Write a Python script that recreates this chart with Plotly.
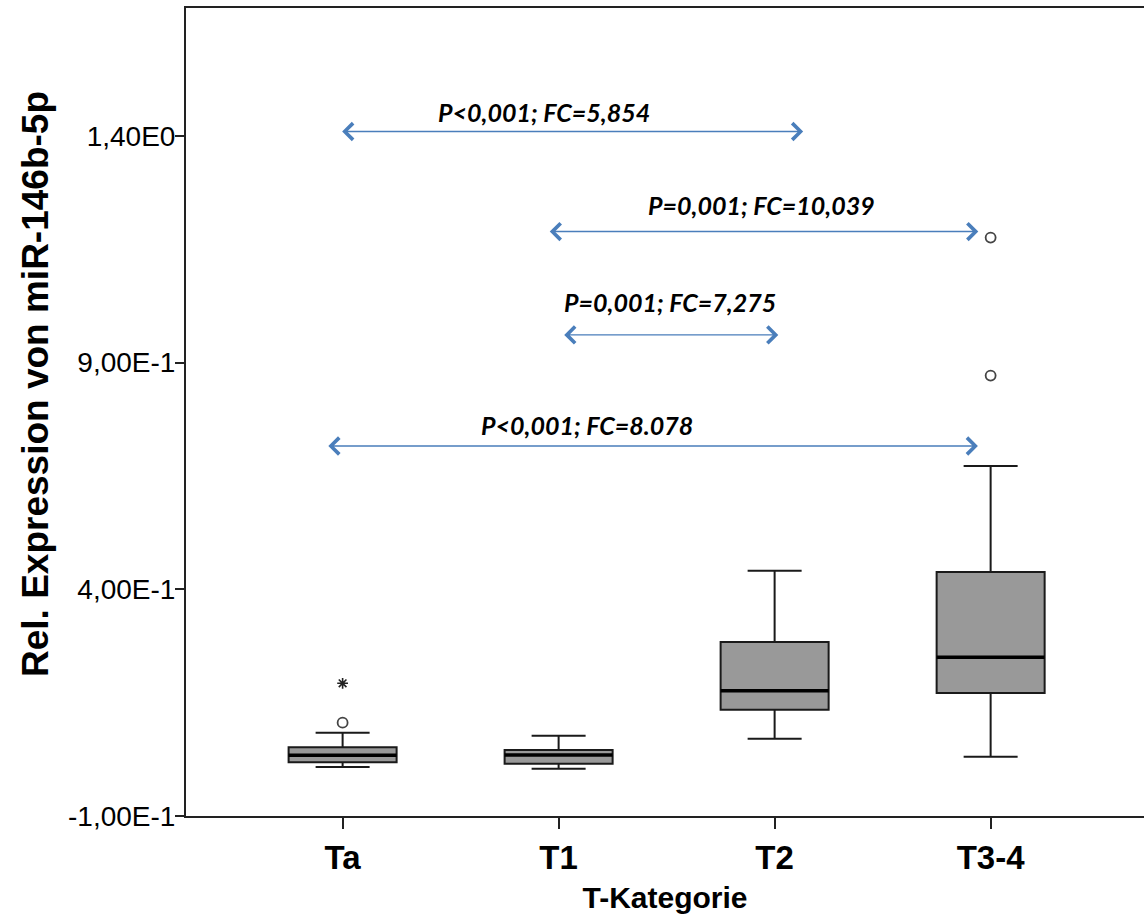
import plotly.graph_objects as go

categories = ["Ta", "T1", "T2", "T3-4"]
q1 = [0.0185, 0.0154, 0.1345, 0.1713]
median = [0.0339, 0.0346, 0.1764, 0.2501]
q3 = [0.0516, 0.0456, 0.2839, 0.4383]
lower_whisker = [0.0080, 0.0044, 0.0705, 0.0308]
upper_whisker = [0.0838, 0.0771, 0.4411, 0.6721]

outlier_cat = ["Ta", "T3-4", "T3-4"]
outlier_val = [0.1058, 1.1757, 0.8713]
extreme_cat = ["Ta"]
extreme_val = [0.1927]

y_tickvals = [-0.1, 0.4, 0.9, 1.4]
y_ticktext = ["-1,00E-1", "4,00E-1", "9,00E-1", "1,40E0"]

comp_labels = ["P<0,001; FC=5,854", "P=0,001; FC=10,039", "P=0,001; FC=7,275", "P<0,001; FC=8.078"]
comp_x_start = [-0.009, 0.952, 1.019, -0.073]
comp_x_end = [2.132, 2.943, 2.017, 2.941]
comp_y = [1.4096, 1.189, 0.961, 0.716]
comp_text_x = [0.932, 1.939, 1.515, 1.131]
comp_text_y = [1.4537, 1.248, 1.0346, 0.7626]

pos = {c: i for i, c in enumerate(categories)}
xs = list(range(len(categories)))

fig = go.Figure()
fig.add_trace(go.Box(
    x=xs, q1=q1, median=median, q3=q3,
    lowerfence=lower_whisker, upperfence=upper_whisker,
    width=0.5, whiskerwidth=0.5,
    fillcolor="#999999", line=dict(color="#1a1a1a", width=2),
    boxpoints=False, hoverinfo="skip", showlegend=False,
))

# median lines (thicker)
mx, my = [], []
for i, m in enumerate(median):
    mx += [i - 0.25, i + 0.25, None]
    my += [m, m, None]
fig.add_trace(go.Scatter(x=mx, y=my, mode="lines",
                         line=dict(color="black", width=3.5),
                         hoverinfo="skip", showlegend=False))

fig.add_trace(go.Scatter(
    x=[pos[c] for c in outlier_cat], y=outlier_val, mode="markers",
    marker=dict(symbol="circle-open", size=10, color="#444444", line=dict(width=1.8)),
    hoverinfo="skip", showlegend=False))
fig.add_trace(go.Scatter(
    x=[pos[c] for c in extreme_cat], y=extreme_val, mode="markers",
    marker=dict(symbol="asterisk-open", size=9, color="#222222", line=dict(width=1.6)),
    hoverinfo="skip", showlegend=False))

annotations = []
for xs0, xe, yy in zip(comp_x_start, comp_x_end, comp_y):
    annotations.append(dict(
        x=xe, y=yy, ax=xs0, ay=yy, xref="x", yref="y", axref="x", ayref="y",
        text="", showarrow=True, arrowhead=4, startarrowhead=4,
        arrowside="end+start", arrowsize=2.3, startarrowsize=2.3, arrowwidth=1.4,
        arrowcolor="#4a7ebb", standoff=0, startstandoff=0))
for t, tx, ty in zip(comp_labels, comp_text_x, comp_text_y):
    annotations.append(dict(
        x=tx, y=ty, xref="x", yref="y", text="<b><i>" + t + "</i></b>",
        showarrow=False, font=dict(family="Lato", size=25, color="black")))

annotations.append(dict(
    x=(35 - 186) / 958, y=(816 - 384) / 808, xref="paper", yref="paper",
    xanchor="center", yanchor="middle",
    text="<b>Rel. Expression von miR-146b-5p</b>", textangle=-90, showarrow=False,
    font=dict(family="Liberation Sans", size=37, color="black")))

fig.update_layout(
    width=1144, height=920,
    margin=dict(l=186, r=0, t=8, b=104),
    paper_bgcolor="white", plot_bgcolor="white",
    annotations=annotations,
    xaxis=dict(
        range=[-0.725, 3.71], tickvals=xs,
        ticktext=["<b>" + c + "</b>" for c in categories],
        showline=True, linecolor="#222222", linewidth=2, mirror=True,
        ticks="outside", ticklen=11, tickwidth=2, tickcolor="#222222",
        showgrid=False, zeroline=False,
        tickfont=dict(family="Liberation Sans", size=33, color="black"),
        title=dict(text="<b>T-Kategorie</b>", standoff=12,
                   font=dict(family="Liberation Sans", size=30, color="black")),
    ),
    yaxis=dict(
        range=[-0.1, 1.682], tickvals=y_tickvals, ticktext=y_ticktext,
        showline=True, linecolor="#222222", linewidth=2,
        ticks="outside", ticklen=9, tickwidth=2, tickcolor="#222222",
        ticklabelstandoff=-6,
        showgrid=False, zeroline=False,
        tickfont=dict(family="Liberation Sans", size=28, color="black"),
    ),
)

fig.write_html("out.html")
